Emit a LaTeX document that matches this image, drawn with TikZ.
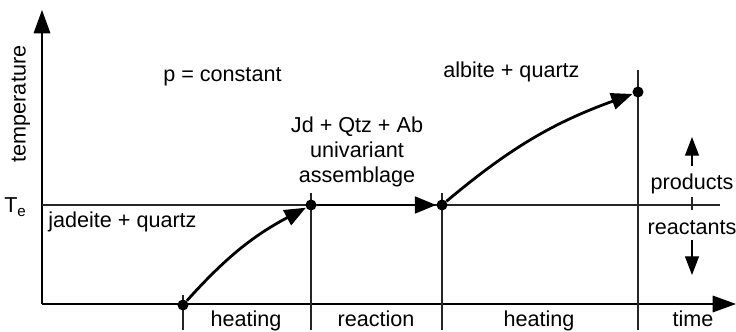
\documentclass[tikz,border=0pt]{standalone}
\usepackage{fontspec}
\setmainfont{Liberation Sans}
\usetikzlibrary{arrows.meta}

\begin{document}
\begin{tikzpicture}[
  x=0.75pt, y=0.75pt,
  font=\fontsize{16.2}{18.75}\selectfont,
  grid/.style={line width=0.9pt, draw=black!85},
  axis/.style={line width=0.9pt, -{Triangle[length=17.5pt,width=12.5pt]}},
  flow/.style={line width=2.1pt, -{Triangle[length=16pt,width=12.5pt]}},
  hint/.style={line width=0.9pt, -{Triangle[length=14pt,width=10.5pt]}},
  state/.style={circle, fill=black, inner sep=0pt, minimum size=8.3pt},
  lbl/.style={anchor=base, inner sep=0pt},
  lblw/.style={anchor=base west, inner sep=0pt}
]
\useasboundingbox (0,0) rectangle (736,332);

\coordinate (o) at (42,28);
\coordinate (ytip) at (42,322);
\coordinate (xtip) at (736,28);
\coordinate (te west) at (42,127);
\coordinate (te east) at (720,127);

\coordinate (start top) at (183,37);
\coordinate (start bot) at (183,2);
\coordinate (eqin top) at (311,139);
\coordinate (eqin bot) at (311,2);
\coordinate (eqout top) at (442,139);
\coordinate (eqout bot) at (442,2);
\coordinate (end top) at (638,262);
\coordinate (end bot) at (638,2);

\draw[axis] (o) -- (ytip);
\draw[axis] (o) -- (xtip);
\draw[grid] (te west) -- (te east);
\draw[grid] (start top) -- (start bot);
\draw[grid] (eqin top) -- (eqin bot);
\draw[grid] (eqout top) -- (eqout bot);
\draw[grid] (end top) -- (end bot);

\node[state] (start) at (183,27) {};
\node[state] (eqin) at (311,127) {};
\node[state] (eqout) at (442,127) {};
\node[state] (end) at (638,240) {};

\draw[flow] (start) to[bend left=10] (eqin);
\draw[flow] (eqin) -- (eqout);
\draw[flow] (eqout) to[bend left=10] (end);

\node[rotate=90, inner sep=0pt] (ylabel) at (21,228) {temperature};
\node[lblw] (te) at (4,119) {T\textsubscript{e}};
\node[lblw] (press) at (163,250) {p = constant};
\node[lblw] (prod) at (443,254) {albite + quartz};
\node[lblw] (react) at (48,104) {jadeite + quartz};
\node[align=center, anchor=base, inner sep=0pt] (uni) at (357,149)
  {Jd + Qtz + Ab\\univariant\\assemblage};

\node[lbl] (products) at (692,142) {products};
\node[lbl] (reactants) at (692,97) {reactants};
\coordinate (up base) at (692,166);
\coordinate (up tip) at (692,195);
\coordinate (down base) at (692,92);
\coordinate (down tip) at (692,57);
\coordinate (mark top) at (692,135);
\coordinate (mark bot) at (692,122);
\draw[hint] (up base) -- (up tip);
\draw[hint] (down base) -- (down tip);
\draw[grid] (mark top) -- (mark bot);

\node[lbl] (heat1) at (246,5) {heating};
\node[lbl] (reac) at (376,5) {reaction};
\node[lbl] (heat2) at (539,5) {heating};
\node[lbl] (time) at (693,5) {time};

\end{tikzpicture}
\end{document}
